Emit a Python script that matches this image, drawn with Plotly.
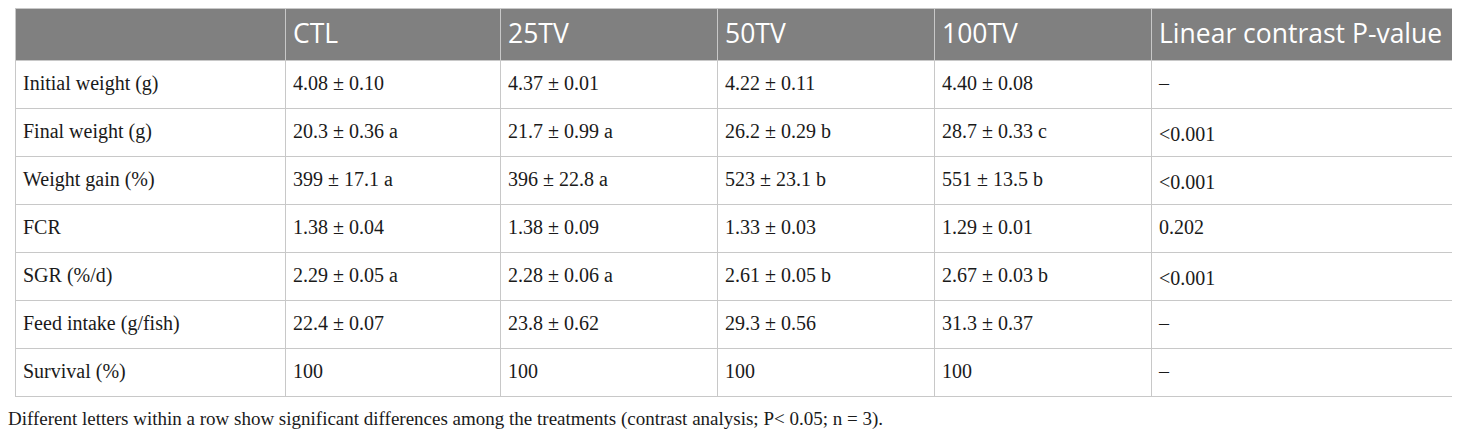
import plotly.graph_objects as go

# table content
headers = ["", "CTL", "25TV", "50TV", "100TV", "Linear contrast P-value"]
parameters = [
    "Initial weight (g)",
    "Final weight (g)",
    "Weight gain (%)",
    "FCR",
    "SGR (%/d)",
    "Feed intake (g/fish)",
    "Survival (%)",
]
ctl = ["4.08 ± 0.10", "20.3 ± 0.36 a", "399 ± 17.1 a", "1.38 ± 0.04",
       "2.29 ± 0.05 a", "22.4 ± 0.07", "100"]
tv25 = ["4.37 ± 0.01", "21.7 ± 0.99 a", "396 ± 22.8 a", "1.38 ± 0.09",
        "2.28 ± 0.06 a", "23.8 ± 0.62", "100"]
tv50 = ["4.22 ± 0.11", "26.2 ± 0.29 b", "523 ± 23.1 b", "1.33 ± 0.03",
        "2.61 ± 0.05 b", "29.3 ± 0.56", "100"]
tv100 = ["4.40 ± 0.08", "28.7 ± 0.33 c", "551 ± 13.5 b", "1.29 ± 0.01",
         "2.67 ± 0.03 b", "31.3 ± 0.37", "100"]
p_values = ["–", "<0.001", "<0.001", "0.202", "<0.001", "–", "–"]
footnote = ("Different letters within a row show significant differences among the "
            "treatments (contrast analysis; P< 0.05; n = 3).")

columns = [parameters, ctl, tv25, tv50, tv100, p_values]

W, H = 1460, 435
col_widths = [270, 215, 217, 217, 217, 309]
left, right = 7, 1452
# plotly's table puts text near the top of a cell, so the text layer is
# a second, transparent table nudged down to centre it in the rows
text_dy = 7

grid = "#c8c8c8"
clear = "rgba(0,0,0,0)"
head_h, row_h = 52, 48

# grid + fills, no text
fig = go.Figure(
    go.Table(
        domain=dict(x=[left / W, right / W], y=[0, 1]),
        columnwidth=col_widths,
        header=dict(
            values=[""] * len(headers),
            fill_color="#808080",
            line=dict(color=grid, width=1),
            height=head_h,
        ),
        cells=dict(
            values=[[""] * len(parameters) for _ in columns],
            fill_color="white",
            line=dict(color=grid, width=1),
            height=row_h,
        ),
    )
)

# text layer
fig.add_trace(
    go.Table(
        domain=dict(x=[left / W, right / W], y=[0, 1 - text_dy / H]),
        columnwidth=col_widths,
        header=dict(
            values=headers,
            fill_color=clear,
            line=dict(color=clear, width=0),
            align="left",
            height=head_h,
            font=dict(family="Open Sans", size=26.5, color="white"),
        ),
        cells=dict(
            values=columns,
            fill_color=clear,
            line=dict(color=clear, width=0),
            align="left",
            height=row_h,
            font=dict(family="Liberation Serif", size=20, color="#1a1a1a"),
        ),
    )
)

fig.add_annotation(
    text=footnote,
    xref="paper", yref="paper",
    x=-2 / W, y=1 - 411 / H,
    xanchor="left", yanchor="middle",
    showarrow=False,
    font=dict(family="Liberation Serif", size=19, color="#1a1a1a"),
)

fig.update_layout(
    width=W,
    height=H,
    margin=dict(l=0, r=0, t=0, b=0),
    paper_bgcolor="white",
    plot_bgcolor="white",
)

fig.write_html("out.html")
